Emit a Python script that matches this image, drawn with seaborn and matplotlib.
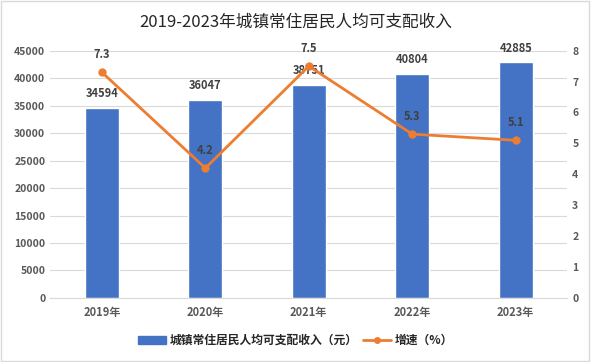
import numpy as np
import pandas as pd
import seaborn as sns
from matplotlib import pyplot as plt
from matplotlib.lines import Line2D
from matplotlib.patches import Patch

years = ['2019年', '2020年', '2021年', '2022年', '2023年']
income = [34594, 36047, 38751, 40804, 42885]
growth = [7.3, 4.2, 7.5, 5.3, 5.1]

sns.set_style('white')
plt.rcParams['font.family'] = ['Noto Sans CJK SC', 'DejaVu Sans']

df = pd.DataFrame({'year': years, 'income': income, 'growth': growth})

fig = plt.figure(figsize=(5.91, 3.62), dpi=100)
ax = fig.add_axes((0.085, 0.177, 0.875, 0.683))
ax2 = ax.twinx()

sns.barplot(data=df, x='year', y='income', color='#4472C4', saturation=1, width=0.33, ax=ax, zorder=2)
sns.lineplot(x=np.arange(len(years)), y=df['growth'], color='#ED7D31', lw=2, marker='o',
             markersize=6, markeredgewidth=0, ax=ax2, zorder=3)

ax.set(ylim=(0, 45000), xlim=(-0.5, 4.5), xlabel='', ylabel='')
ax2.set(ylim=(0, 8), ylabel='')
ax.set_yticks(range(0, 45001, 5000))
ax2.set_yticks(range(0, 9))
ax.yaxis.grid(True, color='#d9d9d9', lw=0.8, zorder=0)
for a in (ax, ax2):
    for s in a.spines.values():
        s.set_visible(False)
    a.tick_params(length=0, labelsize=7.5, colors='#595959')
ax.tick_params(axis='x', labelsize=8, pad=6)
ax.spines['bottom'].set_visible(True)
ax.spines['bottom'].set_color('#d9d9d9')
for lab in ax.get_xticklabels() + ax.get_yticklabels() + ax2.get_yticklabels():
    lab.set_fontweight('bold')

for i, v in enumerate(income):
    ax.text(i, v + 1400, str(v), ha='center', va='bottom', fontsize=8, fontweight='bold', color='#404040')
for i, g in enumerate(growth):
    ax2.text(i, g + 0.35, str(g), ha='center', va='bottom', fontsize=8, fontweight='bold', color='#404040')

fig.text(0.5, 0.94, '2019-2023年城镇常住居民人均可支配收入', ha='center', va='center', fontsize=12, color='#262626')

handles = [Patch(color='#4472C4'),
           Line2D([], [], color='#ED7D31', lw=2, marker='o', markersize=5, markeredgewidth=0)]
fig.legend(handles, ['城镇常住居民人均可支配收入（元）', '增速（%）'], loc='center', bbox_to_anchor=(0.5, 0.06),
           ncol=2, frameon=False, handlelength=2.4, columnspacing=0.4, handletextpad=0.3,
           prop={'weight': 'bold', 'size': 8.5})

fig.patches.append(plt.Rectangle((0.002, 0.003), 0.995, 0.994, transform=fig.transFigure,
                                 fill=False, edgecolor='#d9d9d9', lw=1))

fig.savefig('out.png', dpi=100)
